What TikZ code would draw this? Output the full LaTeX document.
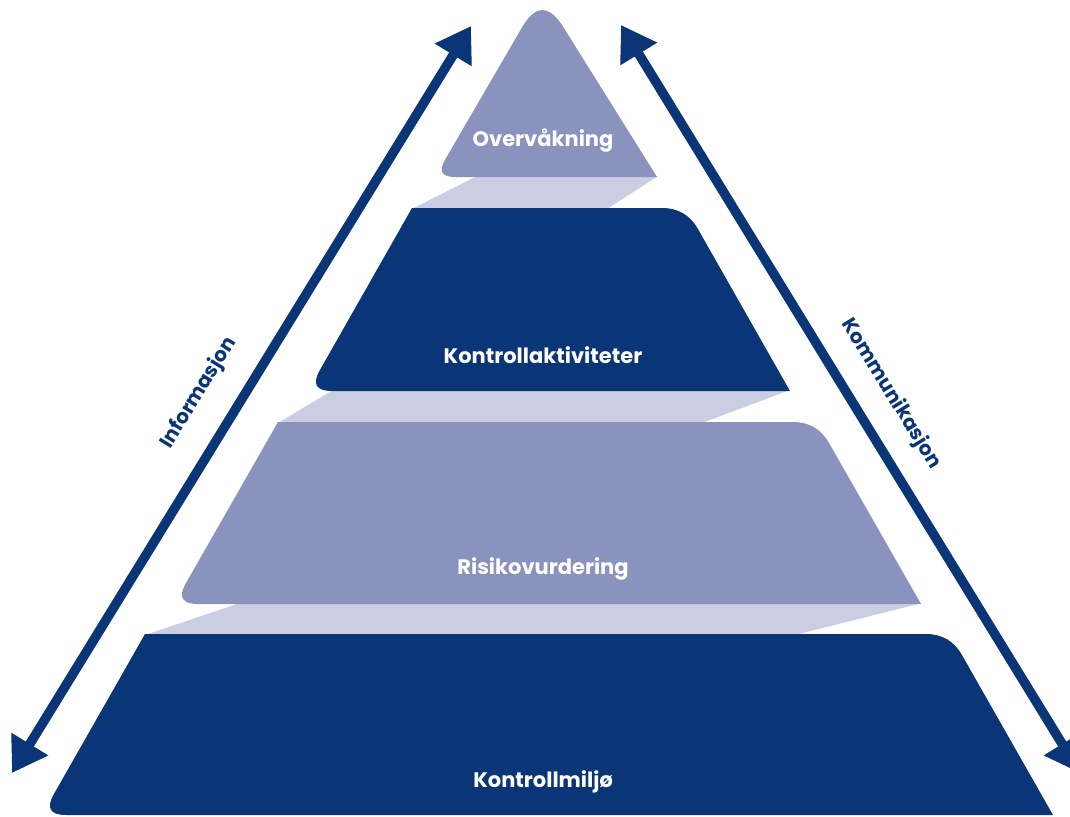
\documentclass[tikz,border=0pt]{standalone}
\usepackage{fontspec}
\setmainfont{Poppins}
\usetikzlibrary{calc,arrows.meta}

\definecolor{navy}{HTML}{0A3677}
\definecolor{lilac}{HTML}{8A93BE}
\definecolor{haze}{HTML}{CBCEE2}

% rounded corner at #2, coming from #1 and leaving towards #3, cut back by #4
\newcommand\rcorner[4]{%
  -- ($(#2)!#4!(#1)$) .. controls ($(#2)!#4/3!(#1)$) and ($(#2)!#4/3!(#3)$) .. ($(#2)!#4!(#3)$)}

% trapezoid: sharp top-left and bottom-right, rounded top-right and bottom-left
\newcommand\rtrap[6]{%
  \fill[#1] (#2) \rcorner{#2}{#3}{#4}{#6} -- (#4) \rcorner{#4}{#5}{#2}{#6} -- cycle;}

\begin{document}
\begin{tikzpicture}[x=1pt,y=-1pt,
  layertext/.style={text=white,font=\bfseries\fontsize{21}{24}\selectfont,inner sep=0pt},
  sidetext/.style={text=navy,font=\bfseries\fontsize{20}{23}\selectfont,inner sep=0pt},
  flow/.style={draw=navy,line width=9.5pt,
    {Triangle[length=34pt,width=41pt]}-{Triangle[length=34pt,width=41pt]}}]
\useasboundingbox (0,0) rectangle (1070,816);
\clip (0,0) rectangle (1070,816);

% shading bands between the levels
\fill[haze] (477,176) -- (658,176) -- (607,209) -- (412,209) -- cycle;
\fill[haze] (333,390) -- (790,390) -- (702,423) -- (278,423) -- cycle;
\fill[haze] (240,603) -- (922,603) -- (795,635) -- (145,635) -- cycle;

% top triangle
\coordinate (ta) at (542,-7);
\coordinate (tb) at (435,177);
\coordinate (tc) at (657,177);
\fill[lilac] (tc) \rcorner{tc}{ta}{tb}{40pt} \rcorner{ta}{tb}{tc}{20pt} -- cycle;

% second level
\coordinate (k1) at (412,208);
\coordinate (k2) at (686,208);
\coordinate (k3) at (790,391);
\coordinate (k4) at (308,391);
\rtrap{navy}{k1}{k2}{k3}{k4}{24pt}

% third level
\coordinate (r1) at (278,422);
\coordinate (r2) at (817,422);
\coordinate (r3) at (921,604);
\coordinate (r4) at (174,604);
\rtrap{lilac}{r1}{r2}{r3}{r4}{24pt}

% base level
\coordinate (m1) at (145,634);
\coordinate (m2) at (950,634);
\coordinate (m3) at (1053,815);
\coordinate (m4) at (42,815);
\rtrap{navy}{m1}{m2}{m3}{m4}{24pt}

% level labels
\node[layertext] (ovk) at (543,141) {Overvåkning};
\node[layertext] (kak) at (543,355) {Kontrollaktiviteter};
\node[layertext] (rsk) at (543,569) {Risikovurdering};
\node[layertext] (kml) at (543,782) {Kontrollmiljø};

% side arrows
\coordinate (ia) at (12,773);
\coordinate (ib) at (471,26);
\coordinate (ka) at (621,25);
\coordinate (kb) at (1080,773);
\draw[flow] (ia) -- (ib);
\draw[flow] (ka) -- (kb);

\node[sidetext,rotate=58.4] (info) at (199,393) {Informasjon};
\node[sidetext,rotate=-58.4] (komm) at (891,394) {Kommunikasjon};
\end{tikzpicture}
\end{document}
